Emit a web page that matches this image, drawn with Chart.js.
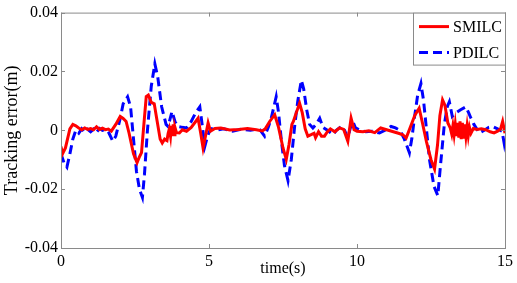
<!DOCTYPE html>
<html>
<head>
<meta charset="utf-8">
<script src="https://cdn.jsdelivr.net/npm/chart.js@4/dist/chart.umd.min.js"></script>
<style>
  html, body { margin: 0; padding: 0; background: #fff; }
  #wrap { width: 517px; height: 283px; }
</style>
</head>
<body>
<div id="wrap"><canvas id="errChart" width="517" height="283"></canvas></div>
<script>
// Tracking error chart: SMILC vs PDILC

const xTicks = [0, 5, 10, 15];
const yTicks = [-0.04, -0.02, 0, 0.02, 0.04];

const smilcTime = [
    0, 0.05, 0.15, 0.3, 0.4, 0.5, 0.6, 0.7, 0.8, 0.9, 1.0, 1.1, 1.2, 1.3, 1.4, 1.5, 1.6, 1.7,
    1.85, 2.0, 2.1, 2.2, 2.3, 2.45, 2.57, 2.65, 2.72, 2.8, 2.88, 2.95, 3.05, 3.15, 3.25, 3.35,
    3.42, 3.5, 3.58, 3.62, 3.66, 3.7, 3.73, 3.76, 3.79, 3.82, 3.85, 3.9, 4.0, 4.1, 4.24, 4.4,
    4.55, 4.63, 4.72, 4.8, 4.88, 4.97, 5.05, 5.2, 5.4, 5.7, 6.0, 6.3, 6.6, 6.8, 6.9, 7.05,
    7.22, 7.35, 7.5, 7.61, 7.7, 7.8, 7.85, 7.95, 8.06, 8.15, 8.25, 8.34, 8.45, 8.55, 8.6, 8.7,
    8.8, 8.9, 9.0, 9.1, 9.25, 9.41, 9.55, 9.69, 9.8, 9.9, 10.0, 10.2, 10.4, 10.6, 10.8, 11.0,
    11.2, 11.4, 11.55, 11.66, 11.8, 11.95, 12.1, 12.2, 12.35, 12.5, 12.62, 12.72, 12.8, 12.89,
    12.97, 13.07, 13.15, 13.2, 13.24, 13.28, 13.32, 13.36, 13.4, 13.44, 13.48, 13.52, 13.56,
    13.6, 13.64, 13.68, 13.72, 13.76, 13.8, 13.85, 13.93, 14.05, 14.2, 14.35, 14.5, 14.63,
    14.75, 14.85, 14.92, 15.0
];
const smilcError = [
    -0.0055, -0.008, -0.006, 0.0005, 0.002, 0.0015, 0.0008, 0.0002, 0.0008, 0.0003, 0.0006, 0.0002, 0.0012, 0.0003, 0.0007, 0.0002, 0.0004, -0.0003,
    0.002, 0.0047, 0.004, 0.003, -0.001, -0.008, -0.011, -0.009, -0.0076, 0.002, 0.0115, 0.012, 0.0095, 0.009, 0.003, -0.003,
    -0.0043, -0.003, -0.0035, -0.001, 0.0005, -0.002, 0.0015, -0.002, 0.002, -0.0015, 0.001, -0.0008, -0.0009, 0.0002, -0.0003, 0.001,
    0.003, 0.0041, -0.001, -0.006, -0.002, 0.0025, -0.0003, 0.0006, 0.0008, 0.0001, 0.0003, 0.0006, 0.0002, -0.0002, 0.0005, 0.003,
    0.0053, 0.001, -0.006, -0.0099, -0.005, 0.002, 0.003, 0.006, 0.0092, 0.006, 0.0005, -0.002, -0.0015, -0.001, -0.0025, -0.0005,
    -0.002, -0.002, -0.0005, 0.0005, -0.0005, 0.0008, 0.0003, -0.0037, 0.0041, 0.0002, -0.0003, -0.0005, -0.0002, -0.0008, 0.0008, 0.0002,
    -0.0004, -0.001, -0.0015, -0.0026, 0.001, 0.005, 0.0075, 0.003, -0.004, -0.01, -0.0132, -0.005, 0.005, 0.0103,
    0.0085, 0.0025, 0.0008, -0.0013, 0.0015, -0.0015, 0.002, -0.002, 0.0025, -0.0025, 0.003, -0.003, 0.0025,
    -0.0028, 0.002, -0.002, 0.0015, -0.0018, 0.001, -0.001, 0.0006, 0.0003, 0.0005, 0.0002, -0.0005, -0.0009,
    -0.0003, 0.0005, 0.003, -0.001
];

const pdilcTime = [
    0, 0.1, 0.2, 0.3, 0.4, 0.5, 0.6, 0.7, 0.8, 0.9, 1.0, 1.1, 1.2, 1.3, 1.4, 1.5, 1.6, 1.75,
    1.85, 2.0, 2.1, 2.25, 2.35, 2.45, 2.55, 2.65, 2.75, 2.82, 2.92, 3.05, 3.17, 3.27, 3.4, 3.55,
    3.62, 3.75, 3.85, 3.95, 4.1, 4.24, 4.4, 4.55, 4.69, 4.78, 4.86, 4.95, 5.02, 5.1, 5.25, 5.5,
    5.8, 6.1, 6.4, 6.7, 6.88, 7.0, 7.1, 7.27, 7.35, 7.45, 7.55, 7.67, 7.78, 7.9, 8.0, 8.12,
    8.2, 8.3, 8.4, 8.51, 8.62, 8.74, 8.85, 9.0, 9.19, 9.3, 9.47, 9.58, 9.69, 9.78, 9.86, 9.95,
    10.1, 10.3, 10.5, 10.76, 10.95, 11.15, 11.3, 11.45, 11.6, 11.77, 11.85, 11.95, 12.05, 12.16,
    12.25, 12.35, 12.45, 12.6, 12.73, 12.82, 12.95, 13.05, 13.12, 13.22, 13.35, 13.5, 13.68,
    13.77, 13.85, 13.95, 14.13, 14.3, 14.45, 14.58, 14.75, 14.9, 14.97, 15.0
];
const pdilcError = [
    -0.008, -0.011, -0.0125, -0.008, -0.003, 0.0, -0.001, 0.0005, -0.0008, 0.0003, -0.0005, 0.0004, -0.0006, 0.0006, 0.0, 0.0003, -0.0005, -0.0037,
    -0.002, 0.004, 0.009, 0.0114, 0.008, -0.003, -0.014, -0.02, -0.0228, -0.015, 0.0, 0.015, 0.0226, 0.018, 0.008, 0.002,
    0.0013, 0.0064, 0.003, 0.0013, 0.001, 0.0008, 0.003, 0.006, 0.008, 0.001, -0.0054, -0.002, -0.0003, 0.0005, 0.0, 0.0005,
    -0.0003, 0.0004, 0.0, 0.0005, -0.002, 0.001, 0.004, 0.0114, 0.006, -0.004, -0.012, -0.0171, -0.01, 0.002, 0.01, 0.017,
    0.014, 0.007, 0.002, 0.0008, 0.002, 0.0041, 0.001, 0.0, -0.0015, 0.0, 0.0013, 0.0, -0.0026, 0.001, 0.003, 0.0008,
    0.0, -0.0005, -0.0003, -0.0009, 0.0, 0.0013, 0.0008, 0.0, -0.003, -0.0076, -0.003, 0.005, 0.012, 0.0159,
    0.01, 0.0, -0.01, -0.019, -0.0222, -0.012, 0.002, 0.008, 0.0097, 0.0047, 0.006, 0.007, 0.008,
    0.006, 0.0041, 0.002, -0.0009, 0.0, 0.001, 0.0013, 0.0005, -0.0003, -0.0043, -0.002
];

const seriesLabels = ['SMILC', 'PDILC'];

const FONT = 'Liberation Serif, Times New Roman, serif';
const AXIS_COLOR = '#8a8a8a';

function toPoints(xs, ys) {
    return xs.map((x, i) => ({ x: x, y: ys[i] }));
}

// Inward tick marks on all four sides plus the top/right frame
const frameTicks = {
    id: 'frameTicks',
    afterDraw(chart) {
        const { ctx, chartArea: a, scales } = chart;
        const len = 4;
        ctx.save();
        ctx.strokeStyle = AXIS_COLOR;
        ctx.lineWidth = 1;
        ctx.strokeRect(a.left + 0.5, a.top + 0.5, a.right - a.left, a.bottom - a.top);
        ctx.beginPath();
        xTicks.forEach(v => {
            const px = Math.round(scales.x.getPixelForValue(v)) + 0.5;
            ctx.moveTo(px, a.bottom); ctx.lineTo(px, a.bottom - len);
            ctx.moveTo(px, a.top); ctx.lineTo(px, a.top + len);
        });
        yTicks.forEach(v => {
            const py = Math.round(scales.y.getPixelForValue(v)) + 0.5;
            ctx.moveTo(a.left, py); ctx.lineTo(a.left + len, py);
            ctx.moveTo(a.right, py); ctx.lineTo(a.right - len, py);
        });
        ctx.stroke();
        ctx.restore();
    }
};

// Boxed legend in the top-right corner of the plot
const boxLegend = {
    id: 'boxLegend',
    afterDraw(chart) {
        const { ctx, chartArea: a } = chart;
        const w = 92, h = 52;
        const x0 = a.right - w, y0 = a.top;
        ctx.save();
        ctx.fillStyle = '#fff';
        ctx.fillRect(x0, y0, w, h);
        ctx.strokeStyle = AXIS_COLOR;
        ctx.lineWidth = 1;
        ctx.strokeRect(x0 + 0.5, y0 + 0.5, w, h);
        chart.data.datasets.forEach((ds, i) => {
            const y = y0 + 14 + i * 26;
            ctx.beginPath();
            ctx.strokeStyle = ds.borderColor;
            ctx.lineWidth = 3;
            ctx.setLineDash(ds.borderDash || []);
            ctx.moveTo(x0 + 6, y);
            ctx.lineTo(x0 + 36, y);
            ctx.stroke();
            ctx.setLineDash([]);
            ctx.fillStyle = '#000';
            ctx.font = '16px ' + FONT;
            ctx.textBaseline = 'middle';
            ctx.textAlign = 'left';
            ctx.fillText(ds.label, x0 + 40, y + 1);
        });
        ctx.restore();
    }
};

new Chart(document.getElementById('errChart'), {
    type: 'line',
    data: {
        datasets: [
            {
                label: seriesLabels[0],
                data: toPoints(smilcTime, smilcError),
                borderColor: '#ff0000',
                borderWidth: 3,
                pointRadius: 0,
                tension: 0,
                fill: false
            },
            {
                label: seriesLabels[1],
                data: toPoints(pdilcTime, pdilcError),
                borderColor: '#0000ff',
                borderWidth: 3,
                borderDash: [9, 5],
                pointRadius: 0,
                tension: 0,
                fill: false
            }
        ]
    },
    options: {
        responsive: false,
        animation: false,
        devicePixelRatio: 1,
        layout: { padding: { top: 10, right: 11, left: 0, bottom: 0 } },
        plugins: {
            legend: { display: false },
            tooltip: { enabled: false }
        },
        scales: {
            x: {
                type: 'linear',
                min: 0,
                max: 15,
                afterBuildTicks: scale => { scale.ticks = xTicks.map(v => ({ value: v })); },
                afterFit: scale => { scale.height = 35; },
                grid: { display: false, drawTicks: false },
                border: { display: false },
                ticks: {
                    color: '#000',
                    font: { family: FONT, size: 16 },
                    padding: 4,
                    maxRotation: 0
                },
                title: {
                    display: true,
                    text: 'time(s)',
                    color: '#000',
                    font: { family: FONT, size: 16 },
                    padding: { top: 0, bottom: 5 }
                }
            },
            y: {
                type: 'linear',
                min: -0.04,
                max: 0.04,
                afterBuildTicks: scale => { scale.ticks = yTicks.map(v => ({ value: v })); },
                afterFit: scale => { scale.width = 61; },
                grid: { display: false, drawTicks: false },
                border: { display: false },
                ticks: {
                    color: '#000',
                    font: { family: FONT, size: 16 },
                    padding: 3,
                    callback: v => (v === 0 ? '0' : String(+v.toFixed(2)))
                },
                title: {
                    display: true,
                    text: 'Tracking error(m)',
                    color: '#000',
                    font: { family: FONT, size: 18 },
                    padding: { top: 1, bottom: 0 }
                }
            }
        }
    },
    plugins: [frameTicks, boxLegend]
});
</script>
</body>
</html>
